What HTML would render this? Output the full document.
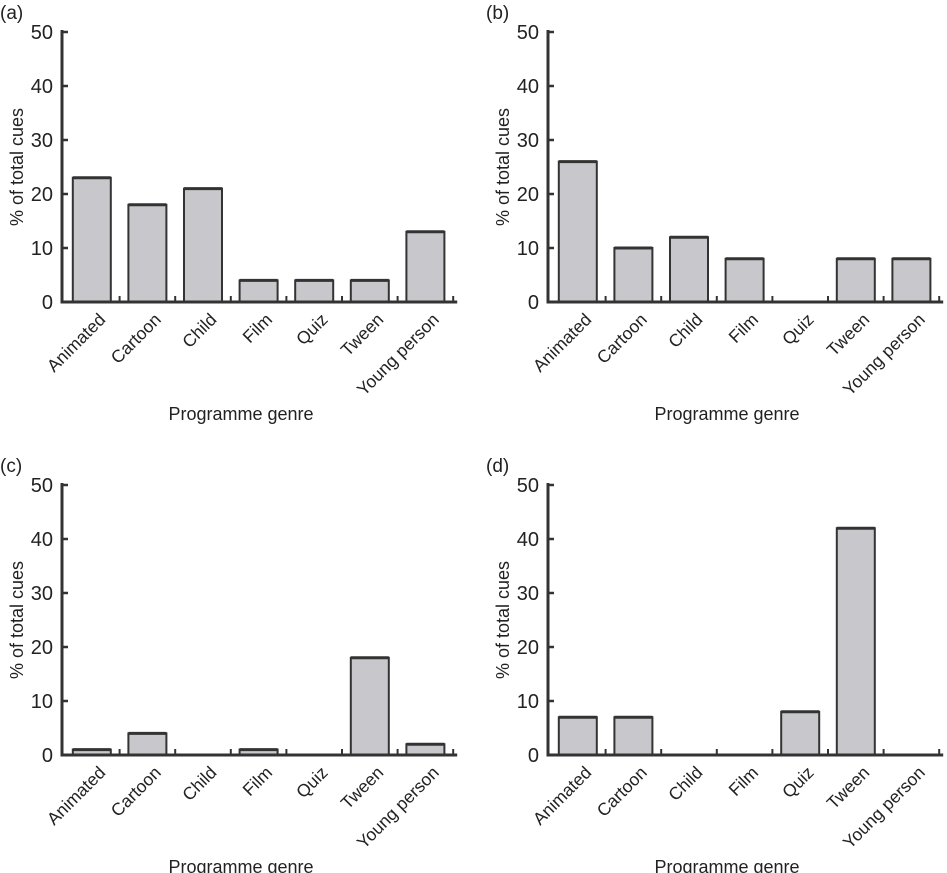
<!DOCTYPE html>
<html><head><meta charset="utf-8"><style>
html,body{margin:0;padding:0;background:#fff;}
svg{display:block;font-family:"Liberation Sans",sans-serif;}
</style></head><body>
<svg id="chart" width="947" height="873"></svg>
<script>
const categories = ["Animated","Cartoon","Child","Film","Quiz","Tween","Young person"];
const panelLabels = ["(a)","(b)","(c)","(d)"];
const valuesA = [23,18,21,4,4,4,13];
const valuesB = [26,10,12,8,0,8,8];
const valuesC = [1,4,0,1,0,18,2];
const valuesD = [7,7,0,0,8,42,0];
const yTicks = [0,10,20,30,40,50];
const allValues = [valuesA,valuesB,valuesC,valuesD];
const origins = [[62,302],[548,302],[62,755],[548,755]];
const NS = "http://www.w3.org/2000/svg";
const svg = document.getElementById("chart");
function mk(tag, attrs, parent){const e=document.createElementNS(NS,tag);for(const k in attrs)e.setAttribute(k,attrs[k]);(parent||svg).appendChild(e);return e;}
const H = 270, step = 55.6, barW = 38, yMax = 50;
origins.forEach((o,pi)=>{
  const [x0,y0]=o;
  const g = mk("g",{});
  
  
  const yS = v => y0 - v/yMax*H;
  const xS = i => x0 + 2 + step*i + step/2;
  const vals = allValues[pi];
  vals.forEach((v,i)=>{
    const yt = yS(v);
    const r = mk("rect",{x:xS(i)-barW/2,y:yt,width:barW,height:y0-yt,fill:"#c8c8cc",stroke:"#333",'stroke-width':2},g);
    
    
    mk("line",{x1:xS(i)-barW/2,x2:xS(i)+barW/2,y1:yt,y2:yt,stroke:"#333",'stroke-width':3},g);
  });
  const ax = mk("line",{x1:x0,y1:y0-H-2,x2:x0,y2:y0+1.5,stroke:"#333",'stroke-width':3},g);
  
  
  const xx = mk("line",{x1:x0,y1:y0,x2:x0+step*7+6,y2:y0,stroke:"#333",'stroke-width':3},g);
  
  
  for(let i=1;i<=7;i++){const xt=x0+2+step*i; mk("line",{x1:xt,x2:xt,y1:y0,y2:y0-6,stroke:"#333",'stroke-width':2},g);}
  yTicks.forEach(t=>{
    const y=yS(t);
    mk("line",{x1:x0,x2:x0+6,y1:y,y2:y,stroke:"#333",'stroke-width':2.5},g);
    const tx=mk("text",{x:x0-9,y:y+7,'text-anchor':'end','font-size':20,fill:"#222"},g);
    tx.textContent=t;
    
    
  });
  categories.forEach((c,i)=>{
    const x=xS(i)+6, y=y0+10;
    const tx=mk("text",{x:x,y:y,'text-anchor':'end','font-size':17.5,fill:"#222",transform:`rotate(-45 ${x} ${y})`,dy:"0.7em"},g);
    tx.textContent=c;
    
    
  });
  const yx = x0-39;
  const yt=mk("text",{x:yx,y:y0-H/2,'text-anchor':'middle','font-size':18,fill:"#222",transform:`rotate(-90 ${yx} ${y0-H/2})`},g);
  yt.textContent="% of total cues";
  
  
  const xt=mk("text",{x:x0+179,y:y0+118,'text-anchor':'middle','font-size':18,fill:"#222"},g);
  xt.textContent="Programme genre";
  
  
  const pl=mk("text",{x:x0-62,y:y0-283,'font-size':19,fill:"#222"},g);
  pl.textContent=panelLabels[pi];
  
  
});
</script>
</body></html>
